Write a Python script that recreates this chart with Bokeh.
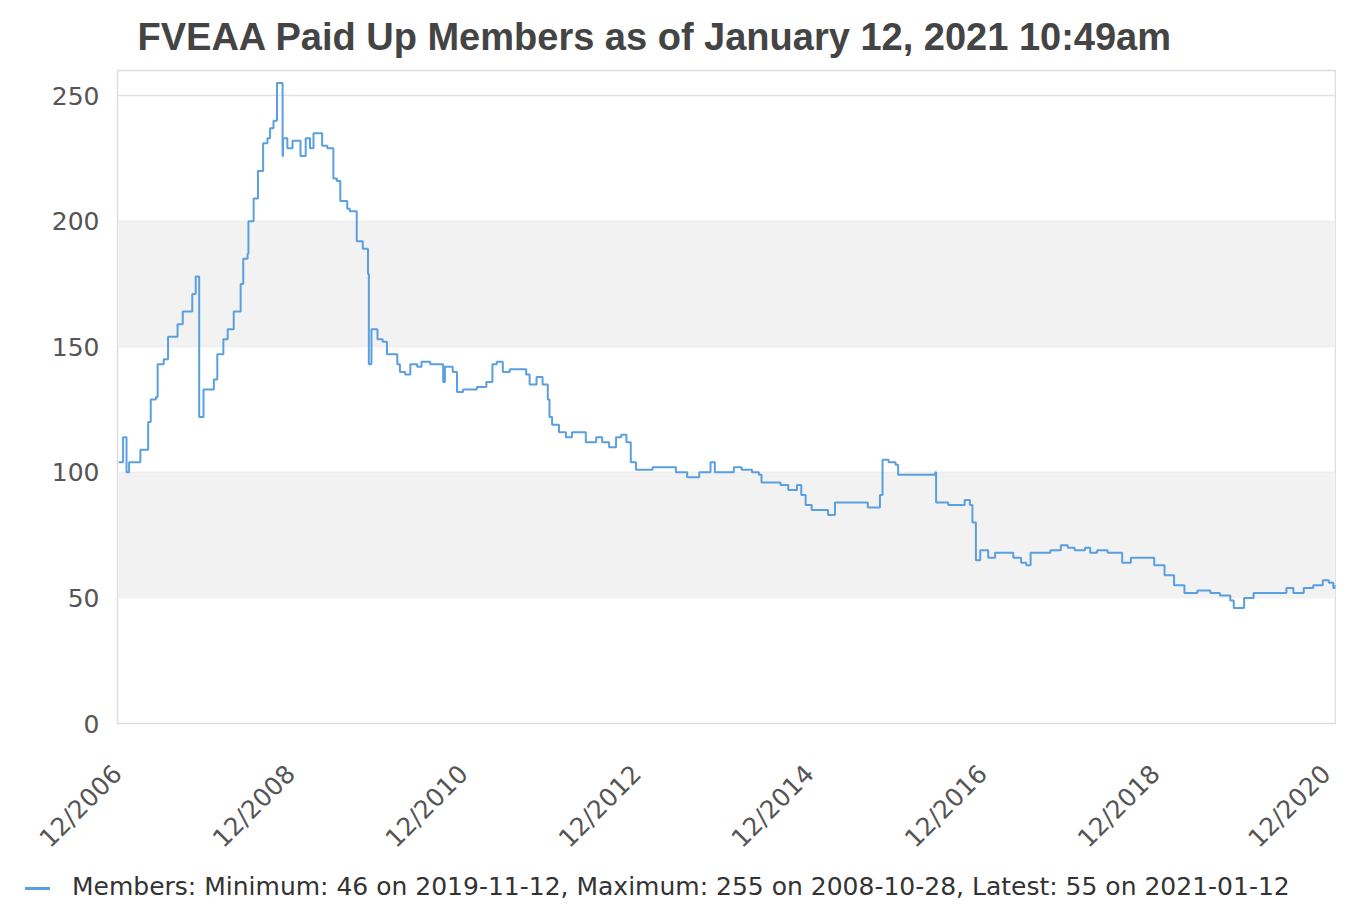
import pandas as pd
from math import pi
from bokeh.plotting import figure
from bokeh.layouts import column
from bokeh.models import (Range1d, FixedTicker, DatetimeTickFormatter, BoxAnnotation, Div)
from bokeh.embed import file_html
from bokeh.resources import INLINE

# decimal years and member counts
years = [2006.97, 2007.02, 2007.05, 2007.06, 2007.09, 2007.22, 2007.31, 2007.34, 2007.40, 2007.42,
         2007.49, 2007.54, 2007.65, 2007.71, 2007.82, 2007.86, 2007.89, 2007.90, 2007.95, 2008.07,
         2008.11, 2008.18, 2008.23, 2008.30, 2008.38, 2008.41, 2008.46, 2008.47, 2008.53, 2008.58,
         2008.64, 2008.69, 2008.72, 2008.76, 2008.80, 2008.86, 2008.865, 2008.87, 2008.92, 2008.98,
         2009.07, 2009.13, 2009.18, 2009.22, 2009.26, 2009.32, 2009.38, 2009.45, 2009.49, 2009.53,
         2009.61, 2009.64, 2009.72, 2009.79, 2009.84, 2009.85, 2009.86, 2009.89, 2009.96, 2010.02,
         2010.07, 2010.19, 2010.22, 2010.28, 2010.34, 2010.42, 2010.47, 2010.57, 2010.68, 2010.72,
         2010.74, 2010.83, 2010.88, 2010.95, 2011.03, 2011.11, 2011.22, 2011.29, 2011.34, 2011.41,
         2011.49, 2011.60, 2011.68, 2011.72, 2011.80, 2011.87, 2011.93, 2011.95, 2011.98, 2012.06,
         2012.14, 2012.21, 2012.29, 2012.37, 2012.49, 2012.56, 2012.64, 2012.72, 2012.78, 2012.84,
         2012.89, 2012.95, 2013.02, 2013.14, 2013.30, 2013.41, 2013.54, 2013.68, 2013.76, 2013.81,
         2013.86, 2013.99, 2014.08, 2014.17, 2014.29, 2014.37, 2014.40, 2014.52, 2014.62, 2014.71,
         2014.81, 2014.86, 2014.91, 2014.98, 2015.09, 2015.17, 2015.25, 2015.37, 2015.52, 2015.63,
         2015.72, 2015.77, 2015.80, 2015.87, 2015.95, 2015.98, 2016.18, 2016.33, 2016.41, 2016.42,
         2016.56, 2016.75, 2016.81, 2016.84, 2016.88, 2016.93, 2017.02, 2017.10, 2017.21, 2017.31,
         2017.40, 2017.46, 2017.51, 2017.63, 2017.74, 2017.86, 2017.94, 2018.02, 2018.14, 2018.20,
         2018.28, 2018.40, 2018.52, 2018.57, 2018.67, 2018.83, 2018.94, 2019.06, 2019.17, 2019.29,
         2019.44, 2019.59, 2019.70, 2019.82, 2019.86, 2019.98, 2020.09, 2020.21, 2020.36, 2020.47,
         2020.55, 2020.67, 2020.78, 2020.89, 2020.96, 2021.01, 2021.03]
members = [104, 114, 114, 100, 104, 109, 120, 129, 130, 143,
           145, 154, 159, 164, 171, 178, 178, 122, 133, 137,
           147, 153, 157, 164, 175, 185, 187, 200, 209, 220,
           231, 233, 237, 240, 255, 255, 226, 233, 229, 232,
           226, 233, 229, 235, 235, 230, 229, 217, 216, 208,
           205, 204, 192, 189, 189, 179, 143, 157, 153, 152,
           147, 143, 140, 139, 143, 142, 144, 143, 143, 136,
           142, 140, 132, 133, 133, 134, 136, 143, 144, 140,
           141, 141, 139, 135, 138, 135, 129, 122, 119, 116,
           114, 116, 116, 112, 114, 112, 110, 114, 115, 112,
           104, 101, 101, 102, 102, 100, 98, 100, 100, 104,
           100, 100, 102, 101, 100, 99, 96, 96, 95, 93,
           95, 91, 87, 85, 85, 83, 88, 88, 88, 86,
           86, 91, 105, 104, 103, 99, 99, 99, 100, 88,
           87, 89, 87, 80, 65, 69, 66, 68, 68, 66,
           64, 63, 68, 68, 69, 71, 70, 69, 70, 68,
           69, 68, 68, 64, 66, 66, 63, 59, 55, 52,
           53, 52, 51, 49, 46, 50, 52, 52, 52, 54,
           52, 54, 55, 57, 56, 54, 55]

tick_years = [2006, 2008, 2010, 2012, 2014, 2016, 2018, 2020]
y_ticks = [0, 50, 100, 150, 200, 250]
shaded_bands = [(50, 100), (150, 200)]
title_text = "FVEAA Paid Up Members as of January 12, 2021 10:49am"
legend_text = "Members: Minimum: 46 on 2019-11-12, Maximum: 255 on 2008-10-28, Latest: 55 on 2021-01-12"

LINE_COLOR = "#5a9fdf"


def to_ts(y):
    yi = int(y)
    return pd.Timestamp(f"{yi}-01-01") + pd.Timedelta(days=(y - yi) * 365.25)


dates = [to_ts(y) for y in years]
x_start = to_ts(2006.955)
x_end = to_ts(2021.035)
tick_ms = [pd.Timestamp(f"{y}-12-16").value / 1e6 for y in tick_years]

p = figure(width=1336, height=866, x_axis_type="datetime",
           output_backend="svg", toolbar_location=None,
           x_range=Range1d(x_start, x_end), y_range=Range1d(0, 260),
           min_border_left=117, min_border_right=1, min_border_bottom=136,
           min_border_top=0)

p.title.text = title_text
p.title.text_font = "Liberation Sans"
p.title.text_font_style = "bold"
p.title.text_font_size = "38px"
p.title.text_color = "#444444"
p.title.align = "left"
p.title.offset = 20
p.title.text_line_height = 1.8
p.title.standoff = 26

for lo, hi in shaded_bands:
    p.add_layout(BoxAnnotation(bottom=lo, top=hi, fill_color="#f2f2f2", fill_alpha=1.0,
                               line_color=None, level="underlay"))

p.step(dates, members, mode="after", line_color=LINE_COLOR, line_width=2)

p.xgrid.visible = False
p.ygrid.ticker = FixedTicker(ticks=y_ticks)
p.ygrid.grid_line_color = "#e3e3e3"
p.ygrid.grid_line_width = 1.5

p.outline_line_color = "#dddddd"
p.outline_line_width = 1.5
p.background_fill_color = "white"

p.yaxis.ticker = FixedTicker(ticks=y_ticks)
p.yaxis.axis_line_color = None
p.yaxis.major_tick_line_color = None
p.yaxis.minor_tick_line_color = None
p.yaxis.major_label_standoff = 12
p.yaxis.major_label_text_font = "DejaVu Sans"
p.yaxis.major_label_text_font_size = "25px"
p.yaxis.major_label_text_color = "#555555"

p.xaxis.ticker = FixedTicker(ticks=tick_ms)
p.xaxis.formatter = DatetimeTickFormatter(days="%m/%Y", months="%m/%Y", years="%m/%Y")
p.xaxis.axis_line_color = "#dddddd"
p.xaxis.major_tick_line_color = None
p.xaxis.minor_tick_line_color = None
p.xaxis.major_label_orientation = pi / 4
p.xaxis.major_label_standoff = 40
p.xaxis.major_label_text_font = "DejaVu Sans"
p.xaxis.major_label_text_font_size = "25px"
p.xaxis.major_label_text_color = "#555555"

# legend line below the chart
legend_html = (
    f'<span style="display:inline-block;width:25px;height:3px;background:{LINE_COLOR};'
    f'vertical-align:middle;margin-right:22px;"></span>{legend_text}'
)
legend_div = Div(text=legend_html, width=1336, height=31,
                 styles={"font-family": "'DejaVu Sans'", "font-size": "25px",
                         "color": "#333333", "padding-left": "20px",
                         "line-height": "31px", "white-space": "nowrap"})

layout = column(p, legend_div, spacing=0)
open("out.html", "w").write(file_html(layout, INLINE))
